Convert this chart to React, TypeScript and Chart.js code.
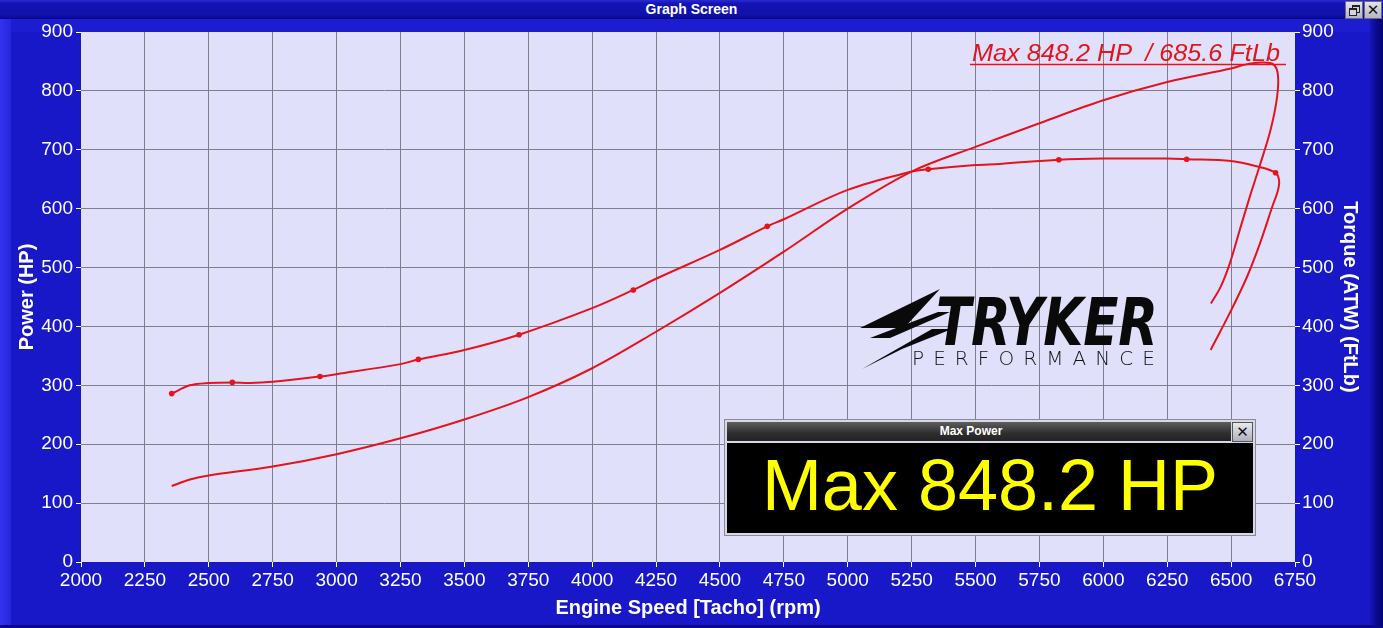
import React, { useEffect, useRef } from "react";
import { Chart, registerables } from "chart.js";

Chart.register(...registerables);

// ---- Data ----
const powerRpm = [
  2355, 2426, 2500, 2750, 3000, 3250, 3500, 3750, 4000, 4250, 4500, 4750, 5000,
  5250, 5500, 5750, 6000, 6250, 6500, 6560, 6620, 6665, 6683, 6680, 6655, 6615,
  6573, 6534, 6495, 6460, 6421,
];
const powerHp = [
  129, 140, 147, 162, 183, 210, 242, 280, 329, 391, 457, 527, 600,
  663, 705, 745, 784, 815, 838, 845, 848, 845, 828, 790, 735, 677,
  620, 564, 507, 468, 439,
];

const torqueRpm = [
  2355, 2426, 2500, 2592, 2661, 2750, 2935, 3000, 3250, 3320, 3500, 3714,
  4000, 4161, 4250, 4500, 4685, 4750, 5000, 5250, 5315, 5500, 5595, 5826,
  6000, 6250, 6326, 6500, 6600, 6674, 6688, 6682, 6664, 6613, 6562, 6495, 6420,
];
const torqueFtLb = [
  286, 300, 304, 305, 304, 306, 315, 319, 336, 344, 360, 386,
  431, 462, 481, 530, 570, 582, 632, 663, 667, 674, 676, 683,
  685, 685, 684, 681, 672, 661, 647, 629, 607, 541, 484, 423, 360,
];

const markerRpm = [2355, 2592, 2935, 3320, 3714, 4161, 4685, 5315, 5826, 6326, 6674];
const markerFtLb = [286, 305, 315, 344, 386, 462, 570, 667, 683, 684, 661];

const rpmMin = 2000;
const rpmMax = 6750;
const rpmStep = 250;
const valMin = 0;
const valMax = 900;
const valStep = 100;

const xTitle = "Engine Speed [Tacho] (rpm)";
const yLeftTitle = "Power (HP)";
const yRightTitle = "Torque (ATW) (FtLb)";
const maxLabel = "Max 848.2 HP  / 685.6 FtLb";
const boxTitle = "Max Power";
const boxValue = "Max 848.2 HP";
const windowTitle = "Graph Screen";

// ---- Styles ----
const RED = "#e5141c";
const BLUE = "#1818c8";
const PLOT_BG = "#e0e0fa";
const GRID = "#7e7e8e";
const FONT = "'Liberation Sans', Arial, sans-serif";

const bgPlugin = {
  id: "plotBg",
  beforeDraw(chart: any) {
    const { ctx, chartArea } = chart;
    if (!chartArea) return;
    ctx.save();
    ctx.fillStyle = PLOT_BG;
    ctx.fillRect(chartArea.left, chartArea.top, chartArea.right - chartArea.left, chartArea.bottom - chartArea.top);
    ctx.restore();
  },
};

export default function App() {
  const canvasRef = useRef<HTMLCanvasElement | null>(null);

  useEffect(() => {
    const canvas = canvasRef.current;
    if (!canvas) return;
    const pts = (xs: number[], ys: number[]) => xs.map((x, i) => ({ x, y: ys[i] }));
    const tickFont = { family: FONT, size: 19 };
    const titleFont = { family: FONT, size: 20, weight: "bold" as const };

    const chart = new Chart(canvas, {
      type: "scatter",
      data: {
        datasets: [
          {
            label: "Power",
            data: pts(powerRpm, powerHp),
            showLine: true,
            borderColor: RED,
            borderWidth: 2,
            pointRadius: 0,
            tension: 0.35,
            yAxisID: "y",
          },
          {
            label: "Torque",
            data: pts(torqueRpm, torqueFtLb),
            showLine: true,
            borderColor: RED,
            borderWidth: 2,
            pointRadius: 0,
            tension: 0.35,
            yAxisID: "y2",
          },
          {
            label: "Torque markers",
            data: pts(markerRpm, markerFtLb),
            showLine: false,
            pointRadius: 2.8,
            pointBackgroundColor: RED,
            pointBorderColor: RED,
            pointBorderWidth: 0,
            yAxisID: "y2",
          },
        ],
      },
      options: {
        responsive: false,
        animation: false,
        layout: { padding: { top: 32, left: 0, right: 0, bottom: 0 } },
        plugins: {
          legend: { display: false },
          tooltip: { enabled: false },
          title: { display: false },
        },
        scales: {
          x: {
            type: "linear",
            position: "bottom",
            min: rpmMin,
            max: rpmMax,
            ticks: {
              stepSize: rpmStep,
              color: "#ffffff",
              font: tickFont,
              padding: 2,
              maxRotation: 0,
              autoSkip: false,
              callback: (v: any) => String(v),
            },
            grid: {
              color: (ctx: any) =>
                ctx.tick && (ctx.tick.value === rpmMin || ctx.tick.value === rpmMax) ? "rgba(0,0,0,0)" : GRID,
              tickColor: "#ffffff",
              tickLength: 5,
              lineWidth: 1,
            },
            border: { display: false },
            title: {
              display: true,
              text: xTitle,
              color: "#ffffff",
              font: titleFont,
              padding: { top: 0, bottom: 8 },
            },
            afterFit: (s: any) => {
              s.height = 66;
            },
          },
          y: {
            type: "linear",
            position: "left",
            min: valMin,
            max: valMax,
            ticks: {
              stepSize: valStep,
              color: "#ffffff",
              font: tickFont,
              padding: 3,
              callback: (v: any) => String(v),
            },
            grid: {
              color: (ctx: any) =>
                ctx.tick && (ctx.tick.value === valMin || ctx.tick.value === valMax) ? "rgba(0,0,0,0)" : GRID,
              tickColor: "#ffffff",
              tickLength: 5,
              lineWidth: 1,
            },
            border: { display: false },
            title: {
              display: true,
              text: yLeftTitle,
              color: "#ffffff",
              font: titleFont,
              padding: { top: 15, bottom: 0 },
            },
            afterFit: (s: any) => {
              s.width = 81;
            },
          },
          y2: {
            type: "linear",
            position: "right",
            min: valMin,
            max: valMax,
            ticks: {
              stepSize: valStep,
              color: "#ffffff",
              font: tickFont,
              padding: 2,
              callback: (v: any) => String(v),
            },
            grid: {
              drawOnChartArea: false,
              tickColor: "#ffffff",
              tickLength: 5,
            },
            border: { display: false },
            title: {
              display: true,
              text: yRightTitle,
              color: "#ffffff",
              font: titleFont,
              padding: { top: 21, bottom: 0 },
            },
            afterFit: (s: any) => {
              s.width = 88;
            },
          },
        },
      } as any,
      plugins: [bgPlugin],
    });
    return () => chart.destroy();
  }, []);

  const abs = (s: React.CSSProperties): React.CSSProperties => ({ position: "absolute", ...s });

  return (
    <div style={{ position: "fixed", left: 0, top: 0, width: 1383, height: 628, background: BLUE, overflow: "hidden", fontFamily: FONT }}>
      {/* window frame */}
      <div style={abs({ left: 0, top: 19, width: 11, height: 609, background: "linear-gradient(to right, #3333ee, #2626de)" })} />
      <div style={abs({ left: 1370, top: 19, width: 13, height: 609, background: "linear-gradient(to right, #1616b8, #0a0a90, #05056a)" })} />
      <div style={abs({ left: 0, top: 625, width: 1383, height: 3, background: "#0a0a86" })} />
      <div style={abs({ left: 11, top: 19, width: 1359, height: 13, background: "#1c1cd0" })} />

      <canvas ref={canvasRef} width={1383} height={628} style={abs({ left: 0, top: 0, width: 1383, height: 628, display: "block" })} />

      {/* title bar */}
      <div
        style={abs({
          left: 0,
          top: 0,
          width: 1383,
          height: 19,
          background: "linear-gradient(#2a2ad6 0%, #1414b4 18%, #1010aa 80%, #08088a 100%)",
        })}
      >
        <div style={abs({ left: 0, top: 0, width: 1383, height: 19, lineHeight: "19px", textAlign: "center", color: "#ffffff", fontWeight: "bold", fontSize: 14 })}>
          {windowTitle}
        </div>
        <div style={abs({ left: 1345, top: 1, width: 16, height: 16, background: "linear-gradient(#e4e4ec, #b4b4c4)", border: "1px solid #6a6a80" })}>
          <div style={abs({ left: 6, top: 3, width: 6, height: 5, border: "1px solid #222", borderTopWidth: 2 })} />
          <div style={abs({ left: 3, top: 6, width: 6, height: 5, border: "1px solid #222", borderTopWidth: 2, background: "#d4d4de" })} />
        </div>
        <div style={abs({ left: 1364, top: 1, width: 16, height: 16, background: "linear-gradient(#e4e4ec, #b4b4c4)", border: "1px solid #6a6a80", textAlign: "center", lineHeight: "16px", fontSize: 15, color: "#111", fontFamily: "'DejaVu Sans', sans-serif" })}>
          ✕
        </div>
      </div>

      {/* overlays on the plot */}
      <svg width={1383} height={628} style={abs({ left: 0, top: 0 })}>
        <text
          x={972}
          y={61}
          fontFamily={FONT}
          fontStyle="italic"
          fontSize={23}
          fill={RED}
          textLength={308}
          lengthAdjust="spacingAndGlyphs"
          style={{ whiteSpace: "pre" }}
        >
          {maxLabel}
        </text>
        <line x1={970} y1={64.5} x2={1286} y2={64.5} stroke={RED} strokeWidth={1.5} />

        {/* logo */}
        <polygon points="940,289 860,328 904,328" fill="#0a0a0a" />
        <polygon points="870,338 938,312 950,312 890,338" fill="#0a0a0a" />
        <polygon points="862,369 932,329 952,329 902,349" fill="#0a0a0a" />
        <text
          x={936}
          y={345}
          fontFamily="'DejaVu Sans', sans-serif"
          fontWeight="bold"
          fontStyle="italic"
          fontSize={66}
          fill="#0a0a0a"
          textLength={222}
          lengthAdjust="spacingAndGlyphs"
        >
          TRYKER
        </text>
        <text
          x={912}
          y={365}
          fontFamily="'DejaVu Sans', sans-serif"
          fontWeight={200}
          fontSize={20}
          fill="#111111"
          textLength={243}
          lengthAdjust="spacing"
        >
          PERFORMANCE
        </text>
      </svg>

      {/* Max Power box */}
      <div style={abs({ left: 724, top: 419, width: 530, height: 115, background: "#d8d8e4", border: "1px solid #8a8a9a" })} />
      <div style={abs({ left: 727, top: 422, width: 504, height: 19, background: "linear-gradient(#5e5e5e, #2e2e2e 60%, #222)" })}>
        <div style={abs({ left: 0, top: 0, width: 488, height: 19, lineHeight: "19px", textAlign: "center", color: "#fff", fontWeight: "bold", fontSize: 12 })}>
          {boxTitle}
        </div>
      </div>
      <div style={abs({ left: 1232, top: 422, width: 19, height: 18, background: "linear-gradient(#e8e8ee, #b0b0bc)", border: "1px solid #555", textAlign: "center", lineHeight: "18px", fontSize: 15, color: "#111", fontFamily: "'DejaVu Sans', sans-serif" })}>
        ✕
      </div>
      <div style={abs({ left: 727, top: 443, width: 526, height: 90, background: "#000" })} />
      <div style={abs({ left: 727, top: 440, width: 526, height: 90, lineHeight: "90px", textAlign: "center", color: "#ffff00", fontSize: 72, whiteSpace: "pre" })}>
        {boxValue}
      </div>
    </div>
  );
}
